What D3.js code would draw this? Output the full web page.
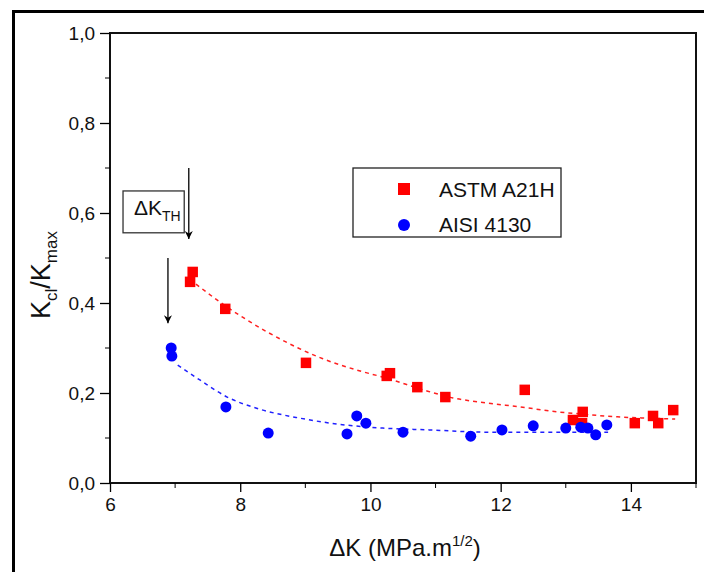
<!DOCTYPE html>
<html>
<head>
<meta charset="utf-8">
<script src="https://cdn.jsdelivr.net/npm/d3@7"></script>
<style>
  body { margin: 0; background: #fff; }
  svg { display: block; font-family: "Liberation Sans", Arial, sans-serif; }
</style>
</head>
<body>
<div id="chart"></div>
<script>
// DATA
const seriesNames = ["ASTM A21H", "AISI 4130"];

const astmX = [7.27, 7.23, 7.77, 9.01, 10.25, 10.30, 10.72, 11.15, 12.37, 13.11, 13.25, 13.26, 14.06, 14.34, 14.42, 14.65];
const astmY = [0.469, 0.447, 0.387, 0.267, 0.238, 0.244, 0.213, 0.191, 0.207, 0.140, 0.133, 0.158, 0.133, 0.149, 0.133, 0.162];

const aisiX = [6.94, 6.95, 7.78, 8.43, 9.79, 9.93, 9.64, 10.50, 11.54, 12.02, 12.50, 13.00, 13.23, 13.34, 13.46, 13.63];
const aisiY = [0.300, 0.282, 0.169, 0.111, 0.149, 0.133, 0.109, 0.113, 0.104, 0.118, 0.127, 0.122, 0.124, 0.122, 0.107, 0.129];

// fitted trend lines
const astmFitX = [7.32, 7.69, 8.03, 8.41, 8.89, 9.27, 9.79, 10.25, 10.88, 11.27, 11.79, 12.30, 12.88, 13.26, 13.79, 14.29, 14.68];
const astmFitY = [0.442, 0.402, 0.369, 0.336, 0.300, 0.276, 0.251, 0.233, 0.204, 0.189, 0.178, 0.169, 0.158, 0.153, 0.147, 0.144, 0.142];

const aisiFitX = [7.04, 7.38, 7.80, 8.30, 8.92, 9.49, 10.19, 10.91, 11.79, 12.88, 13.65];
const aisiFitY = [0.262, 0.229, 0.191, 0.164, 0.144, 0.131, 0.122, 0.118, 0.113, 0.113, 0.113];

const xTicks = [6, 8, 10, 12, 14];
const xMinor = [7, 9, 11, 13, 15];
const yTicks = [0, 0.2, 0.4, 0.6, 0.8, 1.0];
const yMinor = [0.1, 0.3, 0.5, 0.7, 0.9];

// DIMENSIONS
const W = 704, H = 572;
const plot = {left: 110, right: 696, top: 33, bottom: 483};

const svg = d3.select("#chart").append("svg")
    .attr("width", W)
    .attr("height", H);

// outer frame
svg.append("rect")
    .attr("x", 13.5).attr("y", 11.5)
    .attr("width", W + 20).attr("height", H + 20)
    .attr("fill", "none")
    .attr("stroke", "#000")
    .attr("stroke-width", 3);

const xScale = d3.scaleLinear().domain([6, 15]).range([plot.left, plot.right]);
const yScale = d3.scaleLinear().domain([0, 1]).range([plot.bottom, plot.top]);

// plot frame
svg.append("rect")
    .attr("x", plot.left).attr("y", plot.top)
    .attr("width", plot.right - plot.left)
    .attr("height", plot.bottom - plot.top)
    .attr("fill", "none")
    .attr("stroke", "#111")
    .attr("stroke-width", 2);

// X AXIS
const xAxis = d3.axisBottom(xScale).tickValues(xTicks).tickSize(9).tickPadding(6).tickFormat(d3.format("d"));
const gx = svg.append("g")
    .attr("transform", "translate(0," + plot.bottom + ")")
    .call(xAxis);
gx.select(".domain").remove();
gx.append("g").selectAll("line")
    .data(xMinor).enter().append("line")
    .attr("x1", d => xScale(d)).attr("x2", d => xScale(d))
    .attr("y1", 0).attr("y2", 5)
    .attr("stroke", "#000");

// Y AXIS
const yAxis = d3.axisLeft(yScale).tickValues(yTicks).tickSize(10).tickPadding(5)
    .tickFormat(d => d3.format(".1f")(d).replace(".", ","));
const gy = svg.append("g")
    .attr("transform", "translate(" + plot.left + ",0)")
    .call(yAxis);
gy.select(".domain").remove();
gy.append("g").selectAll("line")
    .data(yMinor).enter().append("line")
    .attr("y1", d => yScale(d)).attr("y2", d => yScale(d))
    .attr("x1", 0).attr("x2", -5)
    .attr("stroke", "#000");

svg.selectAll(".tick line").attr("stroke", "#000").attr("stroke-width", 1.3);
svg.selectAll(".tick text")
    .attr("font-size", 19)
    .attr("font-family", "Liberation Sans, Arial, sans-serif")
    .attr("fill", "#111");

// AXIS LABELS
const xLabel = svg.append("text")
    .attr("x", (plot.left + plot.right) / 2 + 2)
    .attr("y", 556)
    .attr("text-anchor", "middle")
    .attr("font-size", 24)
    .attr("fill", "#111");
xLabel.append("tspan").text("\u0394K (MPa.m");
xLabel.append("tspan").attr("font-size", 15).attr("dy", -10).text("1/2");
xLabel.append("tspan").attr("dy", 10).text(")");

const yLabel = svg.append("text")
    .attr("transform", "translate(50," + ((plot.top + plot.bottom) / 2 + 17) + ") rotate(-90)")
    .attr("text-anchor", "middle")
    .attr("font-size", 27)
    .attr("fill", "#111");
yLabel.append("tspan").text("K");
yLabel.append("tspan").attr("font-size", 17).attr("dy", 7).text("cl");
yLabel.append("tspan").attr("dy", -7).text("/K");
yLabel.append("tspan").attr("font-size", 17).attr("dy", 7).text("max");

// FIT LINES
const fitLine = d3.line()
    .x(d => xScale(d[0]))
    .y(d => yScale(d[1]))
    .curve(d3.curveMonotoneX);

svg.append("path")
    .attr("d", fitLine(d3.zip(astmFitX, astmFitY)))
    .attr("fill", "none")
    .attr("stroke", "#ff2020")
    .attr("stroke-width", 1.5)
    .attr("stroke-dasharray", "4,4");

svg.append("path")
    .attr("d", fitLine(d3.zip(aisiFitX, aisiFitY)))
    .attr("fill", "none")
    .attr("stroke", "#2020ff")
    .attr("stroke-width", 1.5)
    .attr("stroke-dasharray", "4,4");

// POINTS
const sq = 10.5;
svg.append("g").selectAll("rect")
    .data(d3.zip(astmX, astmY)).enter().append("rect")
    .attr("x", d => xScale(d[0]) - sq / 2)
    .attr("y", d => yScale(d[1]) - sq / 2)
    .attr("width", sq).attr("height", sq)
    .attr("fill", "#ff0000");

svg.append("g").selectAll("circle")
    .data(d3.zip(aisiX, aisiY)).enter().append("circle")
    .attr("cx", d => xScale(d[0]))
    .attr("cy", d => yScale(d[1]))
    .attr("r", 5.5)
    .attr("fill", "#0000ff");

// ANNOTATION: delta K threshold
svg.append("defs").append("marker")
    .attr("id", "arrow")
    .attr("viewBox", "0 0 10 10")
    .attr("refX", 10).attr("refY", 5)
    .attr("markerWidth", 8).attr("markerHeight", 10)
    .attr("markerUnits", "userSpaceOnUse")
    .attr("orient", "auto")
    .append("path")
    .attr("d", "M0,0 L10,5 L0,10 L3,5 Z")
    .attr("fill", "#000");

const arrows = [
    {x: 7.21, y1: 0.700, y2: 0.542},
    {x: 6.89, y1: 0.500, y2: 0.355}
];
svg.append("g").selectAll("line")
    .data(arrows).enter().append("line")
    .attr("x1", d => xScale(d.x)).attr("x2", d => xScale(d.x))
    .attr("y1", d => yScale(d.y1)).attr("y2", d => yScale(d.y2))
    .attr("stroke", "#000")
    .attr("stroke-width", 1.3)
    .attr("marker-end", "url(#arrow)");

svg.append("rect")
    .attr("x", xScale(6.2)).attr("y", yScale(0.649))
    .attr("width", xScale(7.14) - xScale(6.2))
    .attr("height", yScale(0.556) - yScale(0.649))
    .attr("fill", "#fff")
    .attr("stroke", "#333")
    .attr("stroke-width", 1.3);

const thText = svg.append("text")
    .attr("x", xScale(6.2) + 11)
    .attr("y", yScale(0.595))
    .attr("font-size", 21)
    .attr("fill", "#111");
thText.append("tspan").text("\u0394K");
thText.append("tspan").attr("font-size", 14).attr("dy", 6).text("TH");

// LEGEND
const legend = svg.append("g").attr("transform", "translate(353,168)");
legend.append("rect")
    .attr("width", 208).attr("height", 69)
    .attr("fill", "#fff")
    .attr("stroke", "#222")
    .attr("stroke-width", 1.3);

legend.append("rect")
    .attr("x", 51 - 6).attr("y", 21 - 6)
    .attr("width", 12).attr("height", 12)
    .attr("fill", "#ff0000");
legend.append("circle")
    .attr("cx", 51).attr("cy", 57)
    .attr("r", 6)
    .attr("fill", "#0000ff");

legend.selectAll("text.lab")
    .data(seriesNames).enter().append("text")
    .attr("class", "lab")
    .attr("x", 86)
    .attr("y", (d, i) => 29 + i * 35)
    .attr("font-size", 21)
    .attr("fill", "#111")
    .text(d => d);
</script>
</body>
</html>
